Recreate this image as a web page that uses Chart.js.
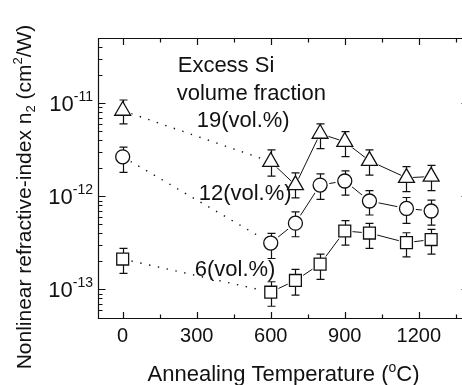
<!DOCTYPE html>
<html>
<head>
<meta charset="utf-8">
<script src="https://cdn.jsdelivr.net/npm/chart.js@4.4.0/dist/chart.umd.min.js"></script>
<style>
  html, body { margin: 0; padding: 0; background: #fff; overflow: hidden; }
</style>
</head>
<body>
<canvas id="chart" width="462" height="385"></canvas>
<script>
// annealing temperature (°C) and n2 (cm²/W)
const TEMPS = [0, 600, 700, 800, 900, 1000, 1150, 1250];

const N2_19 = [8.3e-12, 2.35e-12, 1.32e-12, 4.7e-12, 3.85e-12, 2.4e-12, 1.58e-12, 1.63e-12];
const HI_19 = [1.08e-11, 3.15e-12, 1.78e-12, 6.0e-12, 4.95e-12, 3.15e-12, 2.08e-12, 2.15e-12];
const LO_19 = [6.0e-12, 1.65e-12, 9.6e-13, 3.25e-12, 2.67e-12, 1.69e-12, 1.12e-12, 1.15e-12];

const N2_12 = [2.65e-12, 3.15e-13, 5.15e-13, 1.32e-12, 1.46e-12, 8.9e-13, 7.4e-13, 6.95e-13];
const HI_12 = [3.37e-12, 4.0e-13, 6.8e-13, 1.74e-12, 1.87e-12, 1.15e-12, 9.7e-13, 9.1e-13];
const LO_12 = [1.81e-12, 2.15e-13, 3.68e-13, 9.25e-13, 1.03e-12, 6.3e-13, 5.13e-13, 4.9e-13];

const N2_6 = [2.12e-13, 9.35e-14, 1.25e-13, 1.87e-13, 4.24e-13, 4.03e-13, 3.18e-13, 3.43e-13];
const HI_6 = [2.76e-13, 1.21e-13, 1.64e-13, 2.4e-13, 5.47e-13, 5.13e-13, 4.06e-13, 4.42e-13];
const LO_6 = [1.49e-13, 6.6e-14, 8.7e-14, 1.28e-13, 2.99e-13, 2.76e-13, 2.24e-13, 2.4e-13];

const X_TICKS = [0, 300, 600, 900, 1200];
const Y_DECADES = [-13, -12, -11];

const FONT = '"Liberation Sans", Arial, sans-serif';
const INK = '#111';
const X_FRAME_END = 1400; // right axis sits just past the cropped edge

const SERIES = [
    { vals: N2_19, lo: LO_19, hi: HI_19, style: 'triangle', r: 9.2 },
    { vals: N2_12, lo: LO_12, hi: HI_12, style: 'circle', r: 7 },
    { vals: N2_6, lo: LO_6, hi: HI_6, style: 'rect', r: 8.4 }
];

// text notes, placed in data coordinates
const NOTES = [
    { text: 'Excess Si', x: 223, y: 2.16e-11 },
    { text: 'volume fraction', x: 219, y: 1.08e-11 },
    { text: '19(vol.%)', x: 300, y: 5.54e-12 },
    { text: '12(vol.%)', x: 308, y: 9.12e-13 },
    { text: '6(vol.%)', x: 292, y: 1.39e-13 }
];

const pts = (xs, ys) => xs.map((x, i) => ({ x, y: ys[i] }));

const datasets = [];
SERIES.forEach(s => {
    const all = pts(TEMPS, s.vals);
    // dotted lead-in from the as-deposited sample, solid after
    datasets.push({ data: all.slice(0, 2), showLine: true, borderColor: INK, borderWidth: 1.4, borderDash: [1.4, 7.6], pointRadius: 0, order: 5 });
    datasets.push({ data: all.slice(1), showLine: true, borderColor: INK, borderWidth: 1, pointRadius: 0, order: 5 });
    // white halo so lines stop short of the symbols
    datasets.push({ data: all, pointStyle: s.style, pointRadius: s.r + 2.5, backgroundColor: '#fff', borderColor: '#fff', borderWidth: 0, order: 3 });
    datasets.push({ data: all, pointStyle: s.style, pointRadius: s.r, backgroundColor: '#fff', borderColor: INK, borderWidth: 1.3, order: 1, errLo: s.lo, errHi: s.hi });
});

const crisp = v => Math.round(v) + 0.5;

const errorBars = {
    id: 'errorBars',
    beforeDatasetDraw(chart, args) {
        const ds = chart.data.datasets[args.index];
        if (!ds.errHi) return;
        const { x, y } = chart.scales;
        const ctx = chart.ctx;
        ctx.save();
        ctx.strokeStyle = INK;
        ctx.lineWidth = 1.2;
        ds.data.forEach((p, i) => {
            const px = crisp(x.getPixelForValue(p.x));
            const top = y.getPixelForValue(ds.errHi[i]);
            const bot = y.getPixelForValue(ds.errLo[i]);
            ctx.beginPath();
            ctx.moveTo(px, top); ctx.lineTo(px, bot);
            ctx.moveTo(px - 4, top); ctx.lineTo(px + 4, top);
            ctx.moveTo(px - 4, bot); ctx.lineTo(px + 4, bot);
            ctx.stroke();
        });
        ctx.restore();
    }
};

// draws a run of text pieces (base / super / sub) starting at x
function rich(ctx, parts, x, y, align) {
    let w = 0;
    parts.forEach(p => { ctx.font = `${p.size}px ${FONT}`; p.w = ctx.measureText(p.t).width; w += p.w; });
    let cx = align === 'center' ? x - w / 2 : align === 'right' ? x - w : x;
    parts.forEach(p => {
        ctx.font = `${p.size}px ${FONT}`;
        ctx.fillText(p.t, cx, y + (p.dy || 0));
        cx += p.w;
    });
}

const frame = {
    id: 'frame',
    afterDraw(chart) {
        const { ctx, chartArea: a } = chart;
        const { x, y } = chart.scales;
        ctx.save();
        ctx.strokeStyle = INK;
        ctx.fillStyle = INK;
        ctx.lineWidth = 1.2;
        const L = crisp(a.left), T = crisp(a.top), B = crisp(a.bottom);
        const R = crisp(x.getPixelForValue(X_FRAME_END));
        ctx.beginPath();
        ctx.moveTo(R, T); ctx.lineTo(L, T); ctx.lineTo(L, B); ctx.lineTo(R, B);
        ctx.moveTo(R, T); ctx.lineTo(R, B);
        ctx.stroke();

        ctx.beginPath();
        for (let v = 0; v <= X_FRAME_END; v += 150) {
            const px = crisp(x.getPixelForValue(v));
            const len = v % 300 === 0 ? 6.5 : 4;
            ctx.moveTo(px, B); ctx.lineTo(px, B - len);
            ctx.moveTo(px, T); ctx.lineTo(px, T + len);
        }
        for (let d = -14; d <= -11; d++) {
            for (let m = 1; m <= 9; m++) {
                const v = m * Math.pow(10, d);
                if (v < y.min || v >= y.max) continue;
                const py = crisp(y.getPixelForValue(v));
                const len = m === 1 ? 7 : 4;
                ctx.moveTo(L, py); ctx.lineTo(L + len, py);
                ctx.moveTo(R, py); ctx.lineTo(R - len, py);
            }
        }
        ctx.stroke();

        ctx.textBaseline = 'alphabetic';
        ctx.textAlign = 'left';
        X_TICKS.forEach(v => {
            rich(ctx, [{ t: String(v), size: 20 }], x.getPixelForValue(v), a.bottom + 24.5, 'center');
        });
        Y_DECADES.forEach(d => {
            const py = y.getPixelForValue(Math.pow(10, d));
            rich(ctx, [{ t: '10', size: 22, dy: 8 }, { t: String(d), size: 14, dy: -2 }], a.left - 5, py, 'right');
        });

        rich(ctx, [
            { t: 'Annealing Temperature (', size: 22 },
            { t: 'o', size: 14, dy: -9.5 },
            { t: 'C)', size: 22 }
        ], 283.5, 381, 'center');

        ctx.save();
        ctx.translate(31, 197);
        ctx.rotate(-Math.PI / 2);
        rich(ctx, [
            { t: 'Nonlinear refractive-index n', size: 21 },
            { t: '2', size: 13, dy: 4 },
            { t: ' (cm', size: 21 },
            { t: '2', size: 13, dy: -9 },
            { t: '/W)', size: 21 }
        ], 0, 0, 'center');
        ctx.restore();

        NOTES.forEach(n => {
            rich(ctx, [{ t: n.text, size: 22 }], x.getPixelForValue(n.x), y.getPixelForValue(n.y), 'left');
        });
        ctx.restore();
    }
};

new Chart(document.getElementById('chart'), {
    type: 'scatter',
    data: { datasets },
    options: {
        responsive: false,
        animation: false,
        layout: { autoPadding: false, padding: { left: 98, right: 0, top: 38, bottom: 67.5 } },
        plugins: { legend: { display: false }, tooltip: { enabled: false } },
        scales: {
            x: { type: 'linear', min: -100, max: 1375, display: false },
            y: { type: 'logarithmic', min: 5e-14, max: 5e-11, display: false }
        }
    },
    plugins: [errorBars, frame]
});
</script>
</body>
</html>
